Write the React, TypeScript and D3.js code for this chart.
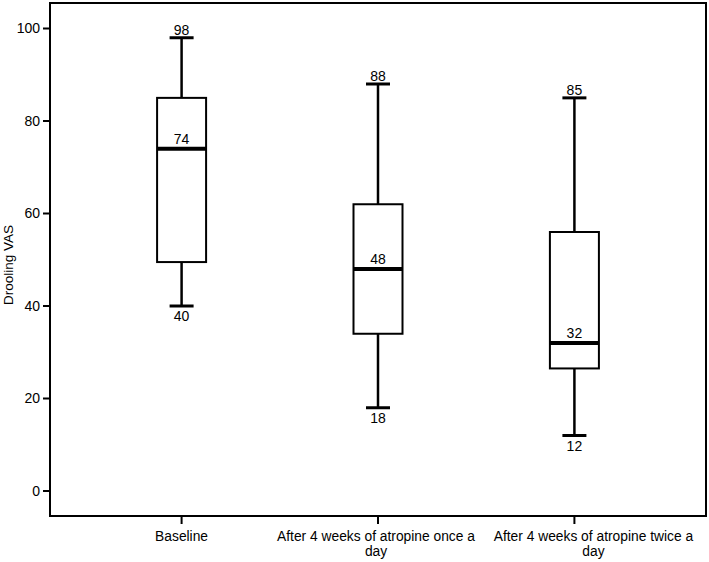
import React from "react";
import * as d3 from "d3";

const categories = ["Baseline", "After 4 weeks of atropine once a day", "After 4 weeks of atropine twice a day"];
const labelLines = [["Baseline"], ["After 4 weeks of atropine once a", "day"], ["After 4 weeks of atropine twice a", "day"]];
const labelShift = [0, -2, 19];
const mins = [40, 18, 12];
const q1s = [49.5, 34, 26.5];
const medians = [74, 48, 32];
const q3s = [85, 62, 56];
const maxs = [98, 88, 85];
const yTicks = [0, 20, 40, 60, 80, 100];

export default function App() {
  const W = 709, H = 562;
  const left = 50, right = 706, top = 3, bottom = 516;
  const x = d3.scalePoint<string>().domain(categories).range([left, right]).padding(0.67);
  const y = d3.scaleLinear().domain([0, 100]).range([491, 28.5]);
  const boxW = 49, capW = 24;
  const font = "Liberation Sans, Arial, sans-serif";
  return (
    <svg width={W} height={H} style={{ position: "absolute", left: 0, top: 0, background: "#fff" }} fontFamily={font}>
      <rect x={left} y={top} width={right - left} height={bottom - top} fill="none" stroke="#000" strokeWidth={2} />
      {yTicks.map((t) => (
        <g key={t}>
          <line x1={43} x2={left} y1={y(t)} y2={y(t)} stroke="#000" strokeWidth={2} />
          <text x={40} y={y(t)} dy="0.35em" textAnchor="end" fontSize={14}>{t}</text>
        </g>
      ))}
      <text transform={`translate(13,265) rotate(-90)`} textAnchor="middle" fontSize={13.5}>Drooling VAS</text>
      {categories.map((c, i) => {
        const cx = x(c)!;
        return (
          <g key={c}>
            <line x1={cx} x2={cx} y1={bottom} y2={bottom + 8} stroke="#000" strokeWidth={2} />
            {labelLines[i].map((l, j) => (
              <text key={j} x={cx + labelShift[i]} y={541 + j * 15} textAnchor="middle" fontSize={13.8}>{l}</text>
            ))}
            <line x1={cx} x2={cx} y1={y(maxs[i])} y2={y(q3s[i])} stroke="#000" strokeWidth={2.5} />
            <line x1={cx} x2={cx} y1={y(q1s[i])} y2={y(mins[i])} stroke="#000" strokeWidth={2.5} />
            <line x1={cx - capW / 2} x2={cx + capW / 2} y1={y(maxs[i])} y2={y(maxs[i])} stroke="#000" strokeWidth={3} />
            <line x1={cx - capW / 2} x2={cx + capW / 2} y1={y(mins[i])} y2={y(mins[i])} stroke="#000" strokeWidth={3} />
            <rect x={cx - boxW / 2} y={y(q3s[i])} width={boxW} height={y(q1s[i]) - y(q3s[i])} fill="#fff" stroke="#000" strokeWidth={2} />
            <line x1={cx - boxW / 2} x2={cx + boxW / 2} y1={y(medians[i])} y2={y(medians[i])} stroke="#000" strokeWidth={4} />
            <text x={cx} y={y(maxs[i]) - 3} textAnchor="middle" fontSize={14}>{maxs[i]}</text>
            <text x={cx} y={y(medians[i]) - 5} textAnchor="middle" fontSize={14}>{medians[i]}</text>
            <text x={cx} y={y(mins[i]) + 15} textAnchor="middle" fontSize={14}>{mins[i]}</text>
          </g>
        );
      })}
    </svg>
  );
}
